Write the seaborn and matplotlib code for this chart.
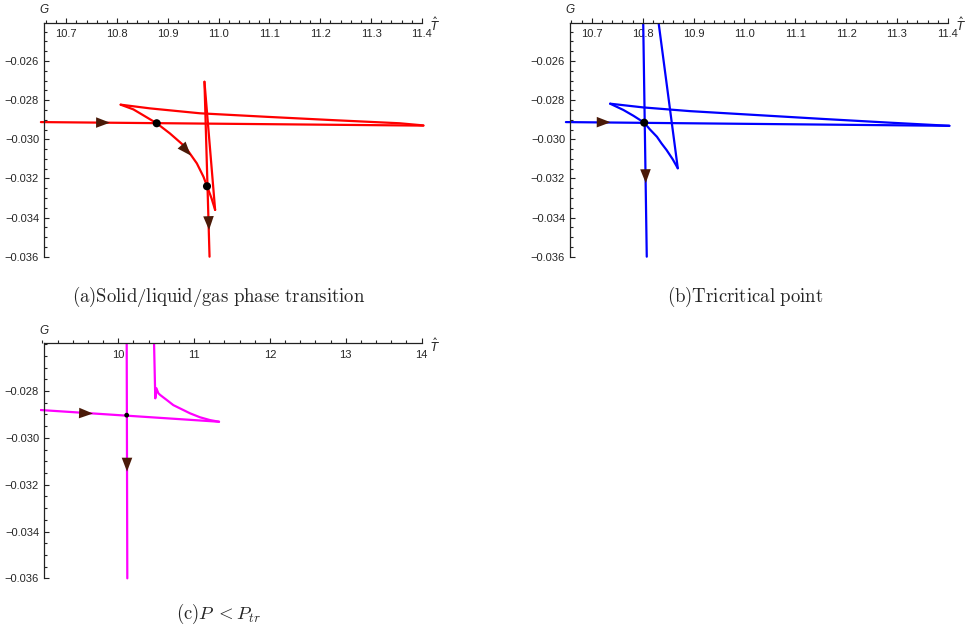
import numpy as np
import pandas as pd
import seaborn as sns
import matplotlib.pyplot as plt
import matplotlib.ticker as mticker

# ---- data (T-hat, G) ----
# panel (a): solid/liquid/gas
a_seg1_T = [10.650, 11.403]
a_seg1_G = [-0.02912, -0.02930]
a_seg2_T = [11.403, 11.356, 11.225, 11.094, 10.963, 10.865, 10.807]
a_seg2_G = [-0.02929, -0.02918, -0.02902, -0.02885, -0.02867, -0.02842, -0.02823]
a_seg3_T = [10.807, 10.832, 10.845, 10.878, 10.904, 10.934, 10.957, 10.970,
            10.977, 10.986, 10.993]
a_seg3_G = [-0.02823, -0.02847, -0.02867, -0.02918, -0.02970, -0.03038, -0.03123,
            -0.03191, -0.03239, -0.03302, -0.03361]
a_seg4_T = [10.993, 10.972]
a_seg4_G = [-0.03361, -0.02706]
a_seg5_T = [10.972, 10.982]
a_seg5_G = [-0.02706, -0.03600]
a_dots_T = [10.878, 10.977]
a_dots_G = [-0.02918, -0.03240]
# arrows: (tail T, tail G, tip T, tip G)
a_arrows = [(10.740, -0.02914, 10.786, -0.02915),
            (10.917, -0.03000, 10.945, -0.03083),
            (10.979, -0.03330, 10.981, -0.03464)]

# panel (b): tricritical point
b_seg1_T = [10.649, 11.403]
b_seg1_G = [-0.02912, -0.02931]
b_seg2_T = [11.403, 11.286, 11.155, 11.024, 10.893, 10.801, 10.736]
b_seg2_G = [-0.02931, -0.02915, -0.02896, -0.02876, -0.02856, -0.02837, -0.02818]
b_seg3_T = [10.736, 10.762, 10.782, 10.803, 10.814, 10.828, 10.837, 10.847,
            10.859, 10.869]
b_seg3_G = [-0.02818, -0.02850, -0.02880, -0.02915, -0.02949, -0.02987, -0.03021,
            -0.03055, -0.03102, -0.03148]
b_seg4_T = [10.869, 10.831]
b_seg4_G = [-0.03148, -0.02399]
b_seg5_T = [10.801, 10.808]
b_seg5_G = [-0.02399, -0.03600]
b_dots_T = [10.803]
b_dots_G = [-0.02915]
b_arrows = [(10.690, -0.02912, 10.737, -0.02913),
            (10.805, -0.03090, 10.806, -0.03224)]

# panel (c): P < P_tr
c_seg1_T = [8.976, 11.329]
c_seg1_G = [-0.02881, -0.02931]
c_seg2_T = [11.329, 11.210, 11.078, 10.946, 10.814, 10.726, 10.639, 10.594,
            10.550, 10.528, 10.503, 10.488, 10.472]
c_seg2_G = [-0.02931, -0.02924, -0.02912, -0.02895, -0.02874, -0.02860, -0.02838,
            -0.02827, -0.02816, -0.02809, -0.02788, -0.02831, -0.02596]
c_seg3_T = [10.111, 10.119]
c_seg3_G = [-0.02596, -0.03600]
c_dots_T = [10.111]
c_dots_G = [-0.02903]
c_arrows = [(9.40, -0.02893, 9.666, -0.02896),
            (10.115, -0.03020, 10.115, -0.03144)]

ab_xticks = [10.7, 10.8, 10.9, 11.0, 11.1, 11.2, 11.3, 11.4]
ab_yticks = [-0.036, -0.034, -0.032, -0.030, -0.028, -0.026]
c_xticks = [10, 11, 12, 13, 14]
c_yticks = [-0.036, -0.034, -0.032, -0.030, -0.028]

captions = [r"$\mathrm{(a)Solid/liquid/gas\ phase\ transition}$",
            r"$\mathrm{(b)Tricritical\ point}$",
            r"$\mathrm{(c)}P\; < P_{tr}$"]

sns.set_style("white")
plt.rcParams["font.family"] = ["Liberation Sans", "DejaVu Sans"]

arrow_col = "#4a1a08"


def make_df(segs):
    rows = []
    for i, (T, G) in enumerate(segs):
        for t, g in zip(T, G):
            rows.append({"T": t, "G": g, "seg": i})
    return pd.DataFrame(rows)


def draw_panel(ax, segs, dots_T, dots_G, arrows, color, dot_size,
               xlim, ylim, x0, x1, xticks, xminor, yticks, fmt):
    df = make_df(segs)
    sns.lineplot(data=df, x="T", y="G", units="seg", estimator=None,
                 sort=False, color=color, lw=1.6, ax=ax, legend=False)
    sns.scatterplot(x=dots_T, y=dots_G, color="black", s=dot_size,
                    edgecolor="none", ax=ax, zorder=5)
    for tT, tG, hT, hG in arrows:
        ax.annotate("", xy=(hT, hG), xytext=(tT, tG),
                    arrowprops=dict(arrowstyle="-|>,head_length=1.0,head_width=0.38",
                                    color=arrow_col, lw=0, shrinkA=0, shrinkB=0,
                                    mutation_scale=10), zorder=6)
    ax.set_xlim(*xlim)
    ax.set_ylim(*ylim)
    ytop = ylim[1]
    ax.spines["top"].set_visible(False)
    ax.spines["right"].set_visible(False)
    ax.spines["bottom"].set_position(("data", ytop))
    ax.spines["bottom"].set_bounds(x0, x1)
    ax.spines["left"].set_position(("data", x0))
    ax.spines["left"].set_bounds(-0.036, ytop)
    for s in ["bottom", "left"]:
        ax.spines[s].set_linewidth(0.9)
        ax.spines[s].set_color("#222222")
    ax.set_xticks(xticks)
    ax.xaxis.set_minor_locator(mticker.MultipleLocator(xminor))
    ax.xaxis.set_major_formatter(
        mticker.FuncFormatter(lambda v, p: (fmt % v).replace("-", "\u2212")))
    ax.set_yticks(yticks)
    ax.yaxis.set_minor_locator(mticker.MultipleLocator(0.0005))
    ax.yaxis.set_major_formatter(
        mticker.FuncFormatter(lambda v, p: ("%.3f" % v).replace("-", "\u2212")))
    ax.tick_params(axis="both", which="both", direction="in", labelsize=8,
                   color="#222222", width=0.8, bottom=True, left=True,
                   top=False, right=False)
    ax.tick_params(axis="x", which="major", length=3.5, pad=4.5)
    ax.tick_params(axis="x", which="minor", length=2)
    ax.tick_params(axis="y", which="major", length=3.5, pad=3.5)
    ax.tick_params(axis="y", which="minor", length=2)
    ax.set_xlabel("")
    ax.set_ylabel("")
    ax.annotate("G", xy=(x0, ytop), xytext=(0, 9), textcoords="offset points",
                ha="center", va="center", fontsize=8.5, style="italic")
    ax.annotate(r"$\hat{T}$", xy=(x1, ytop), xytext=(9.5, -2),
                textcoords="offset points", ha="center", va="center",
                fontsize=8.5, math_fontfamily="dejavusans")


fig = plt.figure(figsize=(9.71, 6.29), dpi=100)
ax_a = fig.add_axes([0.0395, 0.5857, 0.4002, 0.3782])
ax_b = fig.add_axes([0.5807, 0.5857, 0.4007, 0.3782])
ax_c = fig.add_axes([0.0414, 0.0731, 0.3966, 0.3811])

draw_panel(ax_a,
           [(a_seg1_T, a_seg1_G), (a_seg2_T, a_seg2_G), (a_seg3_T, a_seg3_G),
            (a_seg4_T, a_seg4_G), (a_seg5_T, a_seg5_G)],
           a_dots_T, a_dots_G, a_arrows, "#ff0000", 34,
           (10.645, 11.41), (-0.0362, -0.02404), 10.656, 11.4,
           ab_xticks, 0.02, ab_yticks, "%.1f")
draw_panel(ax_b,
           [(b_seg1_T, b_seg1_G), (b_seg2_T, b_seg2_G), (b_seg3_T, b_seg3_G),
            (b_seg4_T, b_seg4_G), (b_seg5_T, b_seg5_G)],
           b_dots_T, b_dots_G, b_arrows, "#0000ff", 34,
           (10.645, 11.41), (-0.0362, -0.02404), 10.657, 11.4,
           ab_xticks, 0.02, ab_yticks, "%.1f")
draw_panel(ax_c,
           [(c_seg1_T, c_seg1_G), (c_seg2_T, c_seg2_G), (c_seg3_T, c_seg3_G)],
           c_dots_T, c_dots_G, c_arrows, "#ff00ff", 12,
           (8.97, 14.05), (-0.0362, -0.02596), 9.02, 14.0,
           c_xticks, 0.2, c_yticks, "%d")

cap_pos = [(219, 297), (745, 297), (219, 614)]
for txt, (px, py) in zip(captions, cap_pos):
    fig.text(px / 971, 1 - py / 629, txt, ha="center", va="center",
             fontsize=13.5, math_fontfamily="cm")

fig.savefig("out.png", dpi=100)
